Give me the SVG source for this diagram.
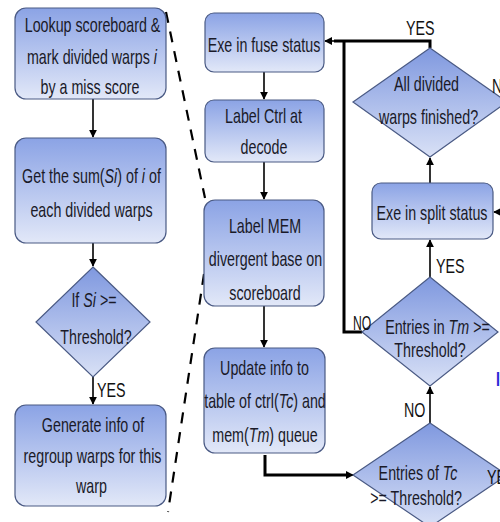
<svg xmlns="http://www.w3.org/2000/svg" width="500" height="522" viewBox="0 0 500 522">
<defs>
<linearGradient id="gb" x1="0" y1="0" x2="0" y2="1">
<stop offset="0" stop-color="#8ba3e5"/>
<stop offset="1" stop-color="#e2e8f8"/>
</linearGradient>
<linearGradient id="gd" x1="0" y1="0" x2="0" y2="1">
<stop offset="0" stop-color="#7f98df"/>
<stop offset="1" stop-color="#d9e1f6"/>
</linearGradient>
<marker id="ah" viewBox="0 0 10 10" refX="9" refY="5" markerWidth="8" markerHeight="8" markerUnits="userSpaceOnUse" orient="auto">
<path d="M0,0 L10,5 L0,10 z" fill="#000"/>
</marker>
</defs>
<style>
.box{fill:url(#gb);stroke:#4a5a84;stroke-width:1.2}
.dia{fill:url(#gd);stroke:#4a5a84;stroke-width:1.2}
text{font-family:"Liberation Sans",Arial,sans-serif;font-size:21px;fill:#1a1a28}
.m{text-anchor:middle}
.lbl{fill:#111}
.c{fill:none;stroke:#000;stroke-width:1.6}
.ct{fill:none;stroke:#000;stroke-width:3}
.d{fill:none;stroke:#000;stroke-width:2.2;stroke-dasharray:11 9}
</style>
<rect width="500" height="522" fill="#fff"/>

<g id="connectors">
<line class="c" x1="93" y1="99" x2="93" y2="137" marker-end="url(#ah)"/>
<line class="c" x1="93" y1="243" x2="93" y2="266" marker-end="url(#ah)"/>
<line class="c" x1="93" y1="377" x2="93" y2="404" marker-end="url(#ah)"/>
<line class="c" x1="264" y1="72" x2="264" y2="99" marker-end="url(#ah)"/>
<line class="c" x1="264" y1="162" x2="264" y2="199" marker-end="url(#ah)"/>
<line class="c" x1="264" y1="306" x2="264" y2="347" marker-end="url(#ah)"/>
<polyline class="ct" points="265,455 265,475 346,475"/>
<line class="c" x1="340" y1="475" x2="353" y2="475" marker-end="url(#ah)"/>
<line class="c" x1="430" y1="423" x2="430" y2="387" stroke-width="2" marker-end="url(#ah)"/>
<line class="c" x1="430" y1="277" x2="430" y2="240" marker-end="url(#ah)"/>
<line class="c" x1="430" y1="183" x2="430" y2="158" marker-end="url(#ah)"/>
<line class="c" x1="504" y1="212" x2="494" y2="212" marker-end="url(#ah)"/>
<polyline class="ct" points="430,48 430,41 334,41"/>
<line class="c" x1="340" y1="41" x2="325" y2="41" marker-end="url(#ah)"/>
<polyline class="ct" points="362,332 344,332 344,41"/>
<line class="d" x1="166" y1="12" x2="205" y2="198"/>
<line class="d" x1="204" y1="274" x2="168" y2="512"/>
</g>

<g id="n1"><rect class="box" x="15" y="8" width="151" height="91" rx="11"/>
<text class="m" transform="translate(92.5,32) scale(0.68,1)">Lookup scoreboard &amp;</text>
<text class="m" transform="translate(92,64) scale(0.68,1)">mark divided warps <tspan font-style="italic">i</tspan></text>
<text class="m" transform="translate(90,94) scale(0.68,1)">by a miss score</text></g>

<g id="n2"><rect class="box" x="15" y="138" width="151" height="105" rx="11"/>
<text class="m" transform="translate(91.5,183) scale(0.68,1)">Get the sum(<tspan font-style="italic">Si</tspan>) of <tspan font-style="italic">i</tspan> of</text>
<text class="m" transform="translate(91.5,217) scale(0.68,1)">each divided warps</text></g>

<g id="n3"><polygon class="dia" points="93,267 150,322 93,377 36,322"/>
<text class="m" transform="translate(94,307) scale(0.68,1)">If <tspan font-style="italic">Si</tspan> &gt;=</text>
<text class="m" transform="translate(96,344) scale(0.68,1)">Threshold?</text></g>
<text class="lbl" transform="translate(97,397) scale(0.68,1)">YES</text>

<g id="n4"><rect class="box" x="15" y="405" width="151" height="101" rx="11"/>
<text class="m" transform="translate(93,432) scale(0.68,1)">Generate info of</text>
<text class="m" transform="translate(92.5,463) scale(0.68,1)">regroup warps for this</text>
<text class="m" transform="translate(91.5,493) scale(0.68,1)">warp</text></g>

<g id="n5"><rect class="box" x="205" y="13" width="119" height="59" rx="9"/>
<text class="m" transform="translate(264,52) scale(0.68,1)">Exe in fuse status</text></g>

<g id="n6"><rect class="box" x="205" y="100" width="119" height="62" rx="9"/>
<text class="m" transform="translate(263.5,123) scale(0.68,1)">Label Ctrl at</text>
<text class="m" transform="translate(264,154) scale(0.68,1)">decode</text></g>

<g id="n7"><rect class="box" x="204" y="200" width="120" height="106" rx="11"/>
<text class="m" transform="translate(265,233) scale(0.68,1)">Label MEM</text>
<text class="m" transform="translate(265.5,266) scale(0.68,1)">divergent base on</text>
<text class="m" transform="translate(265,300) scale(0.68,1)">scoreboard</text></g>

<g id="n8"><rect class="box" x="204" y="348" width="121" height="105" rx="11"/>
<text class="m" transform="translate(264.5,375) scale(0.68,1)">Update info to</text>
<text class="m" transform="translate(265,408) scale(0.68,1)">table of ctrl(<tspan font-style="italic">Tc</tspan>) and</text>
<text class="m" transform="translate(265,442) scale(0.68,1)">mem(<tspan font-style="italic">Tm</tspan>) queue</text></g>

<text class="lbl" transform="translate(406,35) scale(0.68,1)">YES</text>
<g id="n9"><polygon class="dia" points="430,48 507,102 430,157 353,102"/>
<text class="m" transform="translate(426.5,91) scale(0.68,1)">All divided</text>
<text class="m" transform="translate(428.5,124) scale(0.68,1)">warps finished?</text></g>
<text class="lbl" transform="translate(492,93) scale(0.68,1)">N</text>

<g id="n10"><rect class="box" x="372" y="183" width="121" height="56" rx="9"/>
<text class="m" transform="translate(432,220) scale(0.68,1)">Exe in split status</text></g>

<text class="lbl" transform="translate(436,273) scale(0.68,1)">YES</text>
<g id="n11"><polygon class="dia" points="430,277 498,332 430,386 362,332"/>
<text class="m" transform="translate(437.5,334) scale(0.68,1)">Entries in <tspan font-style="italic">Tm</tspan> &gt;=</text>
<text class="m" transform="translate(430,357) scale(0.68,1)">Threshold?</text></g>
<text class="lbl" transform="translate(353,330) scale(0.58,1)">NO</text>
<text class="lbl" transform="translate(404,417) scale(0.68,1)">NO</text>

<g id="n12"><polygon class="dia" points="430,423 507,475 430,527 353,475"/>
<text class="m" transform="translate(418,480) scale(0.68,1)">Entries of <tspan font-style="italic">Tc</tspan></text>
<text class="m" transform="translate(416,505) scale(0.68,1)">&gt;= Threshold?</text></g>
<text class="lbl" transform="translate(487,484) scale(0.68,1)">YE</text>
<text transform="translate(496,386) scale(0.68,1)" style="fill:#2b2bd6;font-weight:bold">I</text>
</svg>
